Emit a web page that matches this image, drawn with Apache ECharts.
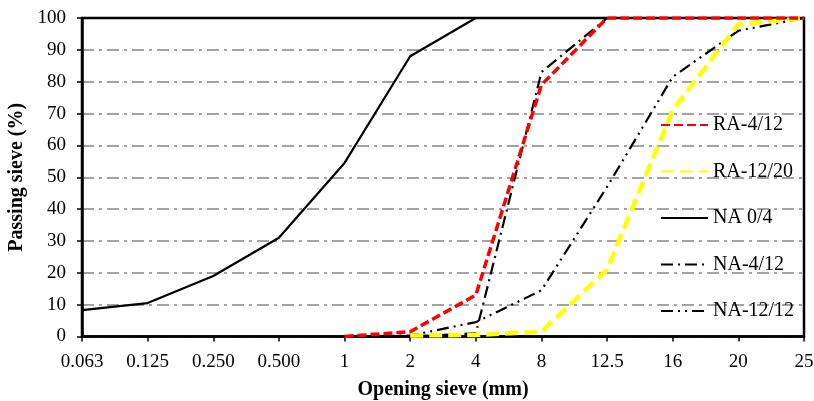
<!DOCTYPE html>
<html>
<head>
<meta charset="utf-8">
<script src="https://cdn.jsdelivr.net/npm/echarts@6/dist/echarts.min.js"></script>
<style>
html,body{margin:0;padding:0;background:#fff;}
#chart{width:814px;height:401px;}
</style>
</head>
<body>
<div id="chart"></div>
<script>
// sieve openings (mm), evenly spaced like the original
var sieveSizes = ['0.063', '0.125', '0.250', '0.500', '1', '2', '4', '8', '12.5', '16', '20', '25'];
// passing (%)
var ra412  = ['-', '-', '-', '-', 0, 1.5, 13, 79, 100, 100, 100, 100];
var ra1220 = ['-', '-', '-', '-', '-', 0.3, 0.5, 1.5, 21, 71, 98, 100];
var na04   = [8.3, 10.5, 19, 31, 54.5, 88, 100, 100, 100, 100, 100, 100];
var na412  = ['-', '-', '-', '-', 0, 0, 1, 83, 100, 100, 100, 100];
var na1212 = ['-', '-', '-', '-', 0, 0.3, 4.5, 14.5, 47, 81.5, 96, 100];
var yTicks = {min: 0, max: 100, step: 10};

var font = 'Liberation Serif';
var chart = echarts.init(document.getElementById('chart'));

function line(name, data, color, width, type, z) {
    return {
        name: name,
        type: 'line',
        data: data,
        symbol: 'none',
        z: z,
        connectNulls: false,
        lineStyle: {color: color, width: width, type: type},
        itemStyle: {color: color}
    };
}

var option = {
    animation: false,
    backgroundColor: '#fff',
    grid: {
        left: 82, right: 10, top: 18, bottom: 64.5,
        outerBoundsMode: 'none',
        containLabel: false,
        show: true, borderColor: '#000', borderWidth: 2.5, z: 1
    },
    legend: {
        orient: 'vertical',
        left: 655,
        top: 110,
        itemWidth: 47,
        itemHeight: 20,
        itemGap: 26.5,
        itemStyle: {color: 'rgba(0,0,0,0)', borderWidth: 0, opacity: 0},
        textStyle: {fontFamily: font, fontSize: 20, color: '#000'},
        data: ['RA-4/12', 'RA-12/20', 'NA 0/4', 'NA-4/12', 'NA-12/12']
    },
    xAxis: {
        type: 'category',
        data: sieveSizes,
        boundaryGap: false,
        name: 'Opening sieve (mm)',
        nameLocation: 'middle',
        nameGap: 43,
        nameTextStyle: {fontFamily: font, fontSize: 20, fontWeight: 'bold', color: '#000'},
        axisLine: {lineStyle: {color: '#000', width: 2.5}},
        axisTick: {show: true, alignWithLabel: true, length: 5, lineStyle: {color: '#000', width: 1.5}},
        axisLabel: {fontFamily: font, fontSize: 19, color: '#000', margin: 16},
        splitLine: {show: false}
    },
    yAxis: {
        type: 'value',
        min: yTicks.min,
        max: yTicks.max,
        interval: yTicks.step,
        name: 'Passing sieve (%)',
        nameLocation: 'middle',
        nameGap: 49,
        nameTextStyle: {fontFamily: font, fontSize: 20, fontWeight: 'bold', color: '#000'},
        axisLine: {show: true, lineStyle: {color: '#000', width: 2.5}},
        axisTick: {show: true, length: 5, lineStyle: {color: '#000', width: 1.5}},
        axisLabel: {fontFamily: font, fontSize: 19, color: '#000', margin: 16},
        splitLine: {show: true, lineStyle: {color: '#858585', width: 1.5, type: [12, 5, 3, 5]}}
    },
    series: [
        line('RA-4/12', ra412, '#ff0000', 3.5, [9, 4], 5),
        line('RA-12/20', ra1220, '#ffff00', 4.5, [13, 6], 4),
        line('NA 0/4', na04, '#000', 2.2, 'solid', 3),
        line('NA-4/12', na412, '#000', 2.2, [12, 5, 2, 5], 3),
        line('NA-12/12', na1212, '#000', 2.2, [12, 5, 2, 5, 2, 5], 3)
    ]
};
chart.setOption(option);
</script>
</body>
</html>
